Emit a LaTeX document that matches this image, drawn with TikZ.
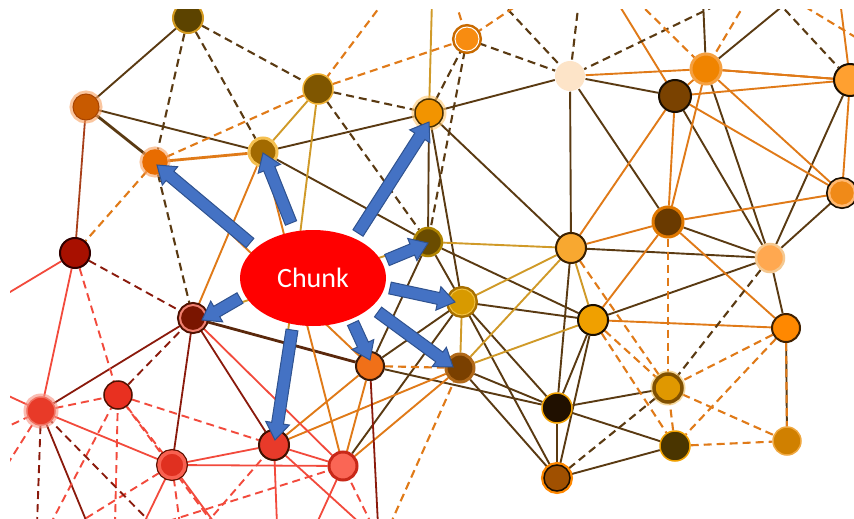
\documentclass[tikz,border=0pt]{standalone}
\usepackage{fontspec}
\setmainfont{Carlito}
\usetikzlibrary{shapes.geometric,calc,backgrounds}
\definecolor{dkb}{HTML}{5A3A12}
\definecolor{org}{HTML}{E07A18}
\definecolor{gld}{HTML}{D09A28}
\definecolor{lred}{HTML}{F24A3C}
\definecolor{dred}{HTML}{8A1A0C}
\definecolor{rbr}{HTML}{A8401A}
\definecolor{vwline}{HTML}{5A280C}
\definecolor{bfill}{HTML}{4472C4}
\definecolor{bline}{HTML}{2F528F}
% node colours
\definecolor{blk}{HTML}{1A0E00}
\definecolor{cA}{HTML}{5C4300}\definecolor{rA}{HTML}{D49A20}
\definecolor{cB}{HTML}{C85A00}\definecolor{rB}{HTML}{A84400}\definecolor{gB}{HTML}{F8A060}
\definecolor{cC}{HTML}{E86C00}
\definecolor{cD}{HTML}{A26A00}\definecolor{rD}{HTML}{F5C050}
\definecolor{cE}{HTML}{7F5600}\definecolor{rE}{HTML}{F0B030}
\definecolor{cF}{HTML}{F29400}\definecolor{rF}{HTML}{4A3000}\definecolor{gF}{HTML}{FFC870}
\definecolor{cG}{HTML}{F88C10}\definecolor{rG}{HTML}{C86A00}
\definecolor{cH}{HTML}{FDE4C8}
\definecolor{cI}{HTML}{F08400}\definecolor{rI}{HTML}{F5A040}
\definecolor{cJ}{HTML}{7A4200}
\definecolor{cK}{HTML}{FFA030}
\definecolor{cL}{HTML}{F08A18}\definecolor{rL}{HTML}{FFB870}
\definecolor{cM}{HTML}{6A3A00}\definecolor{rM}{HTML}{E07800}
\definecolor{cN}{HTML}{6A4C00}\definecolor{rN}{HTML}{B08400}
\definecolor{cO}{HTML}{F8A830}\definecolor{rO}{HTML}{3A2000}
\definecolor{cP}{HTML}{FFA850}\definecolor{rP}{HTML}{F5C890}
\definecolor{cQ}{HTML}{A81000}\definecolor{rQ}{HTML}{300000}
\definecolor{cR}{HTML}{D89A00}\definecolor{rR}{HTML}{F0C040}\definecolor{gR}{HTML}{A87000}
\definecolor{cS}{HTML}{F0A000}
\definecolor{cT}{HTML}{FF8800}\definecolor{rT}{HTML}{402000}
\definecolor{cU}{HTML}{7A4000}\definecolor{rU}{HTML}{B06818}
\definecolor{cV}{HTML}{F07018}\definecolor{rV}{HTML}{3A1A08}
\definecolor{cW}{HTML}{7A1500}\definecolor{rW}{HTML}{F08070}\definecolor{gW}{HTML}{501000}
\definecolor{cX}{HTML}{E83020}\definecolor{rX}{HTML}{501000}
\definecolor{cY}{HTML}{E83A28}\definecolor{rY}{HTML}{F07060}\definecolor{gY}{HTML}{F89080}
\definecolor{cZ}{HTML}{E03020}\definecolor{rZ}{HTML}{F86050}\definecolor{gZ}{HTML}{601000}
\definecolor{cAA}{HTML}{E83A2A}\definecolor{rAA}{HTML}{401000}
\definecolor{cAB}{HTML}{FA6655}\definecolor{rAB}{HTML}{C82818}
\definecolor{cAC}{HTML}{201000}\definecolor{rAC}{HTML}{F0A000}
\definecolor{cAD}{HTML}{E09800}\definecolor{rAD}{HTML}{805000}\definecolor{gAD}{HTML}{F0C060}
\definecolor{cAE}{HTML}{4A3500}
\definecolor{cAF}{HTML}{D08000}\definecolor{rAF}{HTML}{F0A840}
\definecolor{cAG}{HTML}{A05000}\definecolor{gAG}{HTML}{FF8800}
\tikzset{
  nd/.style={circle, inner sep=0pt, minimum size=28pt, line width=1.5pt},
  sd/.style={draw=dkb, line width=1.9pt},
  so/.style={draw=org, line width=1.9pt},
  sg/.style={draw=gld, line width=1.9pt},
  sr/.style={draw=lred, line width=1.8pt},
  sdr/.style={draw=dred, line width=1.8pt},
  dd/.style={draw=dkb, line width=2.1pt, dash pattern=on 8pt off 5pt},
  do/.style={draw=org, line width=2.1pt, dash pattern=on 8pt off 5pt},
  dr/.style={draw=lred, line width=1.9pt, dash pattern=on 8pt off 5pt},
  ddr/.style={draw=dred, line width=1.9pt, dash pattern=on 8pt off 5pt},
  arr/.style={fill=bfill, draw=bline, line width=1pt, line join=miter},
  glow/.style={preaction={draw=#1, line width=7pt, draw opacity=.6}},
  ring/.style={preaction={draw=#1, line width=6pt}}
}
\newcommand\blockarrow[2]{%
  \coordinate (hb) at ($(#2)!17pt!(#1)$);
  \filldraw[arr] ($(#1)!6pt!90:(#2)$) -- ($(hb)!6pt!-90:(#1)$) -- ($(hb)!12pt!-90:(#1)$) -- (#2)
     -- ($(hb)!12pt!90:(#1)$) -- ($(hb)!6pt!90:(#1)$) -- ($(#1)!6pt!-90:(#2)$) -- cycle;}
\begin{document}
\begin{tikzpicture}[x=1pt,y=-1pt]
\useasboundingbox (0,0) rectangle (854,519);
% ---------------- nodes
\begin{scope}
\clip (10,10) rectangle (854,519);
\node[nd, fill=cA, draw=rA, line width=2pt, minimum size=30pt] (A) at (188,18) {};
\node[nd, glow=gB, fill=cB, draw=rB, line width=1pt, minimum size=26pt] (B) at (86,107) {};
\node[nd, glow=gB, fill=cC, draw=cC, minimum size=24pt] (C) at (155,162) {};
\node[nd, fill=cD, draw=rD, line width=3pt] (D) at (263,152) {};
\node[nd, fill=cE, draw=rE, minimum size=30pt] (E) at (318,89) {};
\node[nd, glow=gF, fill=cF, draw=rF] (F) at (429,113) {};
\node[nd, ring=rG, fill=cG, draw=white, line width=1pt, minimum size=24pt] (G) at (467,39) {};
\node[nd, fill=cH, draw=none, minimum size=30pt] (H) at (570,76) {};
\node[nd, fill=cI, draw=rI, line width=3pt, minimum size=30pt] (I) at (706,69) {};
\node[nd, fill=cJ, draw=blk, line width=2pt, minimum size=32pt] (J) at (675,96) {};
\node[nd, fill=cK, draw=blk, line width=2pt, minimum size=32pt] (K) at (850,80) {};
\node[nd, ring=blk, fill=cL, draw=rL, line width=2.5pt, minimum size=26pt] (L) at (842,193) {};
\node[nd, fill=cM, draw=rM, line width=3pt, minimum size=30pt] (M) at (668,222) {};
\node[nd, fill=cN, draw=rN, line width=2.5pt] (N) at (428,242) {};
\node[nd, fill=cO, draw=rO, line width=2pt, minimum size=30pt] (O) at (571,248) {};
\node[nd, fill=cP, draw=rP, line width=2.5pt] (P) at (770,258) {};
\node[nd, fill=cQ, draw=rQ, line width=2pt, minimum size=30pt] (Q) at (75,253) {};
\node[nd, ring=gR, fill=cR, draw=rR, line width=1pt, minimum size=26pt] (R) at (462,302) {};
\node[nd, fill=cS, draw=blk, line width=2pt, minimum size=30pt] (S) at (593,320) {};
\node[nd, fill=cT, draw=rT, line width=2pt] (T) at (786,328) {};
\node[nd, fill=cU, draw=rU, line width=3pt] (U) at (460,368) {};
\node[nd, fill=cV, draw=rV, line width=2pt] (V) at (370,366) {};
\node[nd, ring=gW, fill=cW, draw=rW, line width=2pt, minimum size=26pt] (W) at (193,318) {};
\node[nd, fill=cX, draw=rX] (X) at (118,395) {};
\node[nd, glow=gY, fill=cY, draw=rY] (Y) at (41,411) {};
\node[nd, ring=gZ, fill=cZ, draw=rZ, line width=3.5pt, minimum size=26pt] (Z) at (172,465) {};
\node[nd, fill=cAA, draw=rAA, line width=2pt, minimum size=30pt] (AA) at (274,445) {};
\node[nd, fill=cAB, draw=rAB, line width=3pt] (AB) at (343,466) {};
\node[nd, fill=cAC, draw=rAC, minimum size=30pt] (AC) at (557,408) {};
\node[nd, glow=gAD, fill=cAD, draw=rAD, line width=3.5pt] (AD) at (668,388) {};
\node[nd, fill=cAE, draw=rAC, minimum size=30pt] (AE) at (675,446) {};
\node[nd, fill=cAF, draw=rAF] (AF) at (787,441) {};
\node[nd, ring=gAG, fill=cAG, draw=blk, minimum size=26pt] (AG) at (557,478) {};
\end{scope}
% ---------------- free ends of edges leaving the picture
\coordinate (e1) at (385,0);   \coordinate (f1) at (432,0);
\coordinate (g1) at (455,0);   \coordinate (g2) at (525,0);
\coordinate (h1) at (499,0);   \coordinate (h2) at (579,0);   \coordinate (h3) at (727,0);
\coordinate (i1) at (636,0);   \coordinate (i2) at (703,0);   \coordinate (i3) at (790,0);   \coordinate (i4) at (747,0);
\coordinate (j1) at (616,0);   \coordinate (k1) at (840,0);   \coordinate (k2) at (776,0);
\coordinate (ko1) at (794,0);  \coordinate (ko2) at (870,46);
\coordinate (q1) at (0,298);   \coordinate (y1) at (0,392);   \coordinate (y2) at (0,476);   \coordinate (y3) at (0,430);
\coordinate (yb1) at (37,525); \coordinate (yb2) at (88,525);  \coordinate (yb3) at (153,525);
\coordinate (xb1) at (115,525);\coordinate (xb2) at (50,525);  \coordinate (xb3) at (214,525);
\coordinate (zb1) at (143,525);\coordinate (zb2) at (216,525); \coordinate (zb3) at (180,525); \coordinate (zb4) at (75,525);
\coordinate (ab1) at (316,525);\coordinate (ab2) at (372,525); \coordinate (ab3) at (156,525);
\coordinate (aa1) at (277,525);\coordinate (aa2) at (362,525); \coordinate (aa3) at (205,525);
\coordinate (vb1) at (378,525);\coordinate (ub1) at (390,525);
% ---------------- edges
\begin{scope}[on background layer]
\fill[white] (0,0) rectangle (854,519);
\begin{scope}
\clip (10,10) rectangle (854,519);
\foreach \a/\b in {A/B,B/D,D/F,D/N,F/N,F/R,F/H,F/O,H/J,H/O,H/M,J/P,I/P,K/P,M/P,O/P,P/L,P/T,P/S,
  AC/AD,AC/AE,AC/AG,AE/AG,R/S,R/AC,R/AG,R/N,O/AC,S/AC,S/AG,U/AC,U/AG,N/S,V/R,V/N,V/AC,AB/R,T/AF,i2/I,i3/I}
  \draw[sd] (\a) -- (\b);
\draw[sd, line width=2.8pt] (B) -- (C);
\draw[sd, line width=2.8pt, draw=vwline] (V) -- (W);
\foreach \a/\b in {C/V,D/W,D/AB,H/I,I/J,I/K,J/K,J/O,J/M,I/M,J/L,I/L,K/L,k1/K,j1/J,M/L,M/T,M/O,M/S,S/T,V/AB,AA/V,AA/U,AB/U}
  \draw[so] (\a) -- (\b);
\draw[so, line width=2.8pt] (C) -- (D);
\foreach \a/\b in {E/D,E/AA,f1/F,R/O,R/U,O/S,U/S,U/O,N/O,W/N}
  \draw[sg] (\a) -- (\b);
\foreach \a/\b in {A/C,A/D,A/E,C/W,E/F,E/N,F/G,G/N,G/H,h1/H,h2/H,h3/H,k2/K,P/AD,AD/AG}
  \draw[dd] (\a) -- (\b);
\foreach \a/\b in {C/Q,C/E,E/G,e1/E,g1/G,g2/G,i1/I,i4/I,I/K,ko1/ko2,M/AD,T/AD,T/AE,T/AF,AD/AF,AE/AF,AE/AD,S/AD,S/AE,O/AD,V/U,ub1/U}
  \draw[do] (\a) -- (\b);
\draw[draw=rbr, line width=1.8pt] (B) -- (Q);
\foreach \a/\b in {Q/Y,q1/Q,y1/Y,Y/Z,W/AB,Z/AA,Z/AB,AA/AB,zb1/Z,zb2/Z,aa1/AA,aa2/AA,ab1/AB}
  \draw[sr] (\a) -- (\b);
\foreach \a/\b in {Y/W,W/Z,yb2/Y,vb1/V,W/AA}
  \draw[sdr] (\a) -- (\b);
\foreach \a/\b in {Q/X,Y/X,X/AA,X/Z,y2/Y,y3/Y,xb1/X,xb2/X,xb3/X,zb3/Z,zb4/Z,ab2/AB,ab3/AB,aa3/AA}
  \draw[dr] (\a) -- (\b);
\foreach \a/\b in {Q/W,X/W,yb1/Y,yb3/Y}
  \draw[ddr] (\a) -- (\b);
\end{scope}
\end{scope}
% ---------------- chunk
\node[ellipse, fill=red, draw=none, minimum width=146pt, minimum height=96pt, inner sep=0pt,
      text=white, font=\fontsize{28}{32}\selectfont] (chunk) at (313,278) {Chunk};
% ---------------- blue arrows
\coordinate (aT1) at (250,243); \coordinate (aH1) at (157,165);
\coordinate (aT2) at (291,223); \coordinate (aH2) at (263,153);
\coordinate (aT3) at (358,233); \coordinate (aH3) at (429,122);
\coordinate (aT4) at (387,260); \coordinate (aH4) at (428,243);
\coordinate (aT5) at (390,288); \coordinate (aH5) at (455,302);
\coordinate (aT6) at (378,312); \coordinate (aH6) at (453,367);
\coordinate (aT7) at (353,323); \coordinate (aH7) at (370,360);
\coordinate (aT8) at (292,330); \coordinate (aH8) at (275,440);
\coordinate (aT9) at (240,298); \coordinate (aH9) at (202,320);
\blockarrow{aT1}{aH1}
\blockarrow{aT2}{aH2}
\blockarrow{aT3}{aH3}
\blockarrow{aT4}{aH4}
\blockarrow{aT5}{aH5}
\blockarrow{aT6}{aH6}
\blockarrow{aT7}{aH7}
\blockarrow{aT8}{aH8}
\blockarrow{aT9}{aH9}
\end{tikzpicture}
\end{document}
